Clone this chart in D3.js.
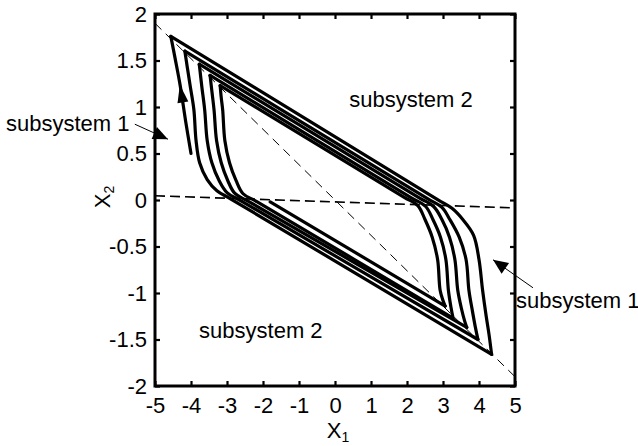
<!DOCTYPE html>
<html>
<head>
<meta charset="utf-8">
<script src="https://cdn.jsdelivr.net/npm/d3@7"></script>
<style>
    html, body { margin: 0; padding: 0; background: #fff; }
    svg { display: block; font-family: "Liberation Sans", Arial, Helvetica, sans-serif; }
</style>
</head>
<body>
<svg id="chart" width="638" height="446"></svg>
<script>
const xTicks = [-5, -4, -3, -2, -1, 0, 1, 2, 3, 4, 5];
const yTicks = [-2, -1.5, -1, -0.5, 0, 0.5, 1, 1.5, 2];

// switching lines (dashed)
const switchDiag = [[-5, 1.9], [5, -1.9]];
const switchFlat = [[-5, 0.045], [5, -0.085]];

// initial piece of the trajectory, going up to the first corner
const startSegment = [[-4.0, 0.50], [-4.15, 0.85], [-4.3, 1.23], [-4.44, 1.52], [-4.56, 1.76]];
const startArrow = [[-4.22, 1.04], [-4.31, 1.24]]; // tail, tip

// upper corner -> top edge -> right knee -> lower-right corner
const upperArcs = [
    [[-4.56, 1.76], [2.85, 0.005], [3.25, -0.09], [3.55, -0.21], [3.85, -0.38], [4.0, -0.64], [4.1, -0.97], [4.2, -1.25], [4.28, -1.45], [4.35, -1.66]],
    [[-4.17, 1.60], [2.57, 0.014], [2.97, -0.08], [3.19, -0.21], [3.45, -0.40], [3.64, -0.64], [3.72, -0.97], [3.82, -1.2], [3.9, -1.37], [3.97, -1.50]],
    [[-3.77, 1.46], [2.34, 0.024], [2.74, -0.07], [2.97, -0.21], [3.18, -0.40], [3.33, -0.64], [3.41, -0.97], [3.52, -1.18], [3.6, -1.3], [3.66, -1.37]],
    [[-3.47, 1.34], [2.12, 0.024], [2.52, -0.07], [2.72, -0.21], [2.93, -0.40], [3.08, -0.64], [3.15, -0.97], [3.22, -1.15], [3.28, -1.27]],
    [[-3.19, 1.23], [1.9, 0.034], [2.30, -0.06], [2.5, -0.21], [2.7, -0.40], [2.85, -0.64], [2.92, -0.97], [3.0, -1.08], [3.06, -1.14]]
];

// lower-right corner -> bottom edge -> left knee -> next upper corner
const lowerArcs = [
    [[4.35, -1.66], [-2.88, 0.008], [-3.28, 0.10], [-3.55, 0.22], [-3.76, 0.40], [-3.86, 0.64], [-3.92, 0.97], [-4.02, 1.22], [-4.10, 1.42], [-4.17, 1.60]],
    [[3.97, -1.50], [-2.6, -0.011], [-3.0, 0.08], [-3.22, 0.21], [-3.42, 0.40], [-3.55, 0.64], [-3.62, 0.97], [-3.70, 1.22], [-3.77, 1.46]],
    [[3.66, -1.37], [-2.38, -0.02], [-2.78, 0.07], [-2.98, 0.21], [-3.16, 0.40], [-3.29, 0.64], [-3.36, 0.97], [-3.42, 1.17], [-3.47, 1.34]],
    [[3.28, -1.27], [-2.16, -0.02], [-2.56, 0.07], [-2.75, 0.21], [-2.93, 0.40], [-3.06, 0.64], [-3.12, 0.97], [-3.16, 1.1], [-3.19, 1.23]],
    [[3.06, -1.14], [-1.8, -0.02]]
];

const regionNames = ['subsystem 1', 'subsystem 2'];

// ——— Layout ———
const svg = d3.select('#chart');
const x = d3.scaleLinear().domain([-5, 5]).range([155, 515]);
const y = d3.scaleLinear().domain([-2, 2]).range([386, 14]);
const FONT = 22;

svg.append('defs').append('clipPath').attr('id', 'plotClip')
    .append('rect')
    .attr('x', x(-5)).attr('y', y(2))
    .attr('width', x(5) - x(-5)).attr('height', y(-2) - y(2));

// ——— Dashed switching lines ———
const plot = svg.append('g').attr('clip-path', 'url(#plotClip)');
const line = d3.line().x(d => x(d[0])).y(d => y(d[1]));

plot.append('path').datum(switchDiag)
    .attr('d', line)
    .attr('fill', 'none').attr('stroke', '#000')
    .attr('stroke-width', 1).attr('stroke-dasharray', '9,6');

plot.append('path').datum(switchFlat)
    .attr('d', line)
    .attr('fill', 'none').attr('stroke', '#000')
    .attr('stroke-width', 1.6).attr('stroke-dasharray', '10,5');

// ——— Trajectory ———
const curve = d3.line().x(d => x(d[0])).y(d => y(d[1])).curve(d3.curveCatmullRom.alpha(0.5));
const arcs = [startSegment].concat(upperArcs, lowerArcs);

plot.append('g').selectAll('path')
    .data(arcs)
    .join('path')
    .attr('d', curve)
    .attr('fill', 'none')
    .attr('stroke', '#000')
    .attr('stroke-width', 3.2)
    .attr('stroke-linecap', 'round')
    .attr('stroke-linejoin', 'round');

// ——— Arrowheads ———
function arrowHead(tail, tip, len, half) {
    const dx = tip[0] - tail[0], dy = tip[1] - tail[1];
    const n = Math.hypot(dx, dy), ux = dx / n, uy = dy / n;
    const bx = tip[0] - ux * len, by = tip[1] - uy * len;
    return [[tip[0], tip[1]], [bx - uy * half, by + ux * half], [bx + uy * half, by - ux * half]];
}
const px = d => [x(d[0]), y(d[1])];

svg.append('polygon')
    .attr('points', arrowHead(px(startArrow[0]), px(startArrow[1]), 18, 5.5).join(' '))
    .attr('fill', '#000');

// ——— Axes box & ticks ———
const axisB = d3.axisBottom(x).tickValues(xTicks).tickSizeInner(-5).tickSizeOuter(0).tickPadding(11)
    .tickFormat(d => String(d));
const axisT = d3.axisTop(x).tickValues(xTicks).tickSizeInner(-5).tickSizeOuter(0).tickFormat('');
const axisL = d3.axisLeft(y).tickValues(yTicks).tickSizeInner(-5).tickSizeOuter(0).tickPadding(8)
    .tickFormat(d => String(d));
const axisR = d3.axisRight(y).tickValues(yTicks).tickSizeInner(-5).tickSizeOuter(0).tickFormat('');

function styleAxis(g) {
    g.select('.domain').remove();
    g.selectAll('line').attr('stroke', '#000').attr('stroke-width', 2.2);
    g.selectAll('text').attr('fill', '#000').attr('font-size', FONT)
        .attr('font-family', '"Liberation Sans", Arial, Helvetica, sans-serif');
}
svg.append('g').attr('transform', `translate(0,${y(-2)})`).call(axisB).call(styleAxis);
svg.append('g').attr('transform', `translate(0,${y(2)})`).call(axisT).call(styleAxis);
svg.append('g').attr('transform', `translate(${x(-5)},0)`).call(axisL).call(styleAxis);
svg.append('g').attr('transform', `translate(${x(5)},0)`).call(axisR).call(styleAxis);

svg.append('rect')
    .attr('x', x(-5)).attr('y', y(2))
    .attr('width', x(5) - x(-5)).attr('height', y(-2) - y(2))
    .attr('fill', 'none').attr('stroke', '#000').attr('stroke-width', 3);

// ——— Axis labels ———
const xl = svg.append('text')
    .attr('x', x(0) + 3).attr('y', 438)
    .attr('text-anchor', 'middle').attr('font-size', FONT);
xl.append('tspan').text('X');
xl.append('tspan').attr('font-size', 14).attr('dy', 4).text('1');

const yl = svg.append('text')
    .attr('transform', `translate(110,${y(0) - 3}) rotate(-90)`)
    .attr('text-anchor', 'middle').attr('font-size', FONT);
yl.append('tspan').text('X');
yl.append('tspan').attr('font-size', 14).attr('dy', 4).text('2');

// ——— Region annotations ———
svg.append('text').attr('x', x(2.11)).attr('y', y(1.0))
    .attr('text-anchor', 'middle').attr('font-size', FONT).text(regionNames[1]);
svg.append('text').attr('x', x(-2.06)).attr('y', y(-1.48))
    .attr('text-anchor', 'middle').attr('font-size', FONT).text(regionNames[1]);

svg.append('text').attr('x', 6).attr('y', 131)
    .attr('font-size', FONT).text(regionNames[0]);
svg.append('text').attr('x', 516).attr('y', 308)
    .attr('font-size', FONT).text(regionNames[0]);

const callouts = [
    [[-5.56, 0.815], [-4.64, 0.654]],
    [[5.5, -0.944], [4.39, -0.643]]
];
callouts.forEach(([tail, tip]) => {
    const a = px(tail), b = px(tip);
    svg.append('line')
        .attr('x1', a[0]).attr('y1', a[1]).attr('x2', b[0]).attr('y2', b[1])
        .attr('stroke', '#000').attr('stroke-width', 1);
    svg.append('polygon')
        .attr('points', arrowHead(a, b, 15, 6.5).join(' '))
        .attr('fill', '#000');
});
</script>
</body>
</html>
